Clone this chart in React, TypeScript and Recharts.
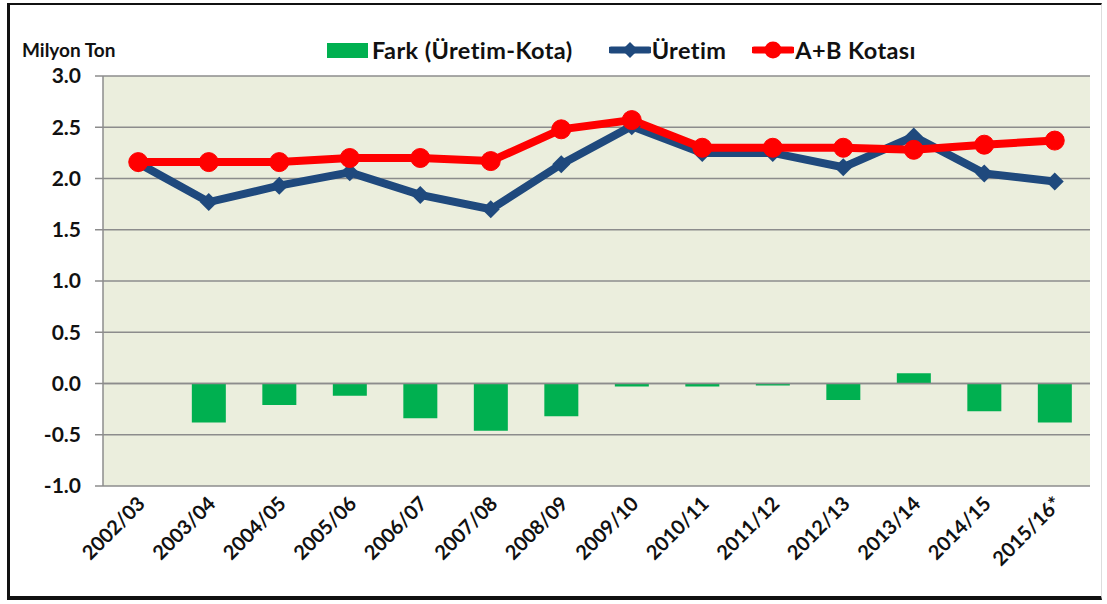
import React from 'react';
import {
  ComposedChart,
  Bar,
  Line,
  XAxis,
  YAxis,
  CartesianGrid,
  ReferenceLine,
} from 'recharts';

const seasons = [
  '2002/03', '2003/04', '2004/05', '2005/06', '2006/07', '2007/08', '2008/09',
  '2009/10', '2010/11', '2011/12', '2012/13', '2013/14', '2014/15', '2015/16*',
];
const uretim = [2.15, 1.77, 1.93, 2.06, 1.84, 1.7, 2.14, 2.51, 2.25, 2.25, 2.11, 2.41, 2.05, 1.97];
const kota = [2.16, 2.16, 2.16, 2.2, 2.2, 2.17, 2.48, 2.57, 2.3, 2.3, 2.3, 2.28, 2.33, 2.37];
const fark = [0, -0.38, -0.21, -0.12, -0.34, -0.46, -0.32, -0.03, -0.03, -0.02, -0.16, 0.1, -0.27, -0.38];
const yTicks = [-1, -0.5, 0, 0.5, 1, 1.5, 2, 2.5, 3];

const GREEN = '#00B050';
const BLUE = '#1F497D';
const RED = '#FF0000';
const FONT = 'Lato, "Open Sans", sans-serif';

const chartData = seasons.map((s, i) => ({
  name: s,
  fark: fark[i],
  uretim: uretim[i],
  kota: kota[i],
}));

// diamond marker for Üretim
const Diamond = (props: any) => {
  const { cx, cy } = props;
  if (cx == null || cy == null) return null;
  const r = 9;
  return (
    <polygon
      points={`${cx},${cy - r} ${cx + r},${cy} ${cx},${cy + r} ${cx - r},${cy}`}
      fill={BLUE}
    />
  );
};

const XTick = (props: any) => {
  const { x, y, payload } = props;
  return (
    <g transform={`translate(${x + 1},${y + 4})`}>
      <text
        transform="rotate(-45)"
        textAnchor="end"
        dy={10}
        fontFamily={FONT}
        fontWeight={700}
        fontSize={20}
        fill="#111"
      >
        {payload.value}
      </text>
    </g>
  );
};

const LegendBox = () => (
  <div
    style={{
      position: 'absolute',
      left: 327,
      top: 36,
      display: 'flex',
      alignItems: 'center',
      fontFamily: FONT,
      fontWeight: 700,
      fontSize: 23.5,
      letterSpacing: 0.4,
      color: '#111',
      whiteSpace: 'nowrap',
    }}
  >
    <div style={{ width: 41, height: 15, background: GREEN, marginRight: 4 }} />
    <span style={{ marginRight: 36 }}>Fark (Üretim-Kota)</span>
    <svg width={42} height={18} style={{ marginRight: 1 }}>
      <line x1={2} y1={9} x2={40} y2={9} stroke={BLUE} strokeWidth={7} strokeLinecap="round" />
      <polygon points="21,1 29,9 21,17 13,9" fill={BLUE} />
    </svg>
    <span style={{ marginRight: 26 }}>Üretim</span>
    <svg width={42} height={20} style={{ marginRight: 1 }}>
      <line x1={2} y1={10} x2={40} y2={10} stroke={RED} strokeWidth={7} strokeLinecap="round" />
      <circle cx={21} cy={10} r={8.5} fill={RED} />
    </svg>
    <span>A+B Kotası</span>
  </div>
);

export default function App() {
  return (
    <div style={{ position: 'relative', width: 1107, height: 604, background: '#fff' }}>
      <style>{'body{margin:0}'}</style>
      <div
        style={{
          position: 'absolute',
          left: 7,
          top: 3,
          width: 1095,
          height: 597,
          borderLeft: '3px solid #111',
          borderTop: '2px solid #111',
          borderBottom: '4px solid #111',
          borderRight: '1px solid #ddd',
          boxSizing: 'border-box',
          pointerEvents: 'none',
        }}
      />
      <div
        style={{
          position: 'absolute',
          left: 22,
          top: 38,
          fontFamily: FONT,
          fontWeight: 700,
          fontSize: 19,
          color: '#111',
        }}
      >
        Milyon Ton
      </div>
      <LegendBox />
      <ComposedChart
        width={1107}
        height={604}
        data={chartData}
        margin={{ top: 76, right: 17, left: 0, bottom: 0 }}
        barCategoryGap="26%"
      >
        <CartesianGrid vertical={false} stroke="#8c8c8c" strokeWidth={1.5} fill="#EBEEDD" />
        <XAxis
          dataKey="name"
          height={118}
          tick={<XTick />}
          axisLine={false}
          tickLine={false}
          interval={0}
        />
        <YAxis
          domain={[-1, 3]}
          ticks={yTicks}
          width={103}
          tickFormatter={(v: number) => v.toFixed(1)}
          tick={{ fontFamily: FONT, fontWeight: 700, fontSize: 21, fill: '#111' }}
          tickSize={8}
          tickMargin={14}
          stroke="#8c8c8c"
          strokeWidth={1.5}
          allowDataOverflow
        />
        <ReferenceLine y={0} stroke="#8c8c8c" strokeWidth={1.5} />
        <Bar dataKey="fark" name="Fark (Üretim-Kota)" fill={GREEN} isAnimationActive={false} />
        <Line
          dataKey="uretim"
          name="Üretim"
          stroke={BLUE}
          strokeWidth={8}
          dot={<Diamond />}
          isAnimationActive={false}
        />
        <Line
          dataKey="kota"
          name="A+B Kotası"
          stroke={RED}
          strokeWidth={8}
          dot={{ r: 9.5, fill: RED, stroke: RED, strokeWidth: 1 }}
          isAnimationActive={false}
        />
      </ComposedChart>
    </div>
  );
}
